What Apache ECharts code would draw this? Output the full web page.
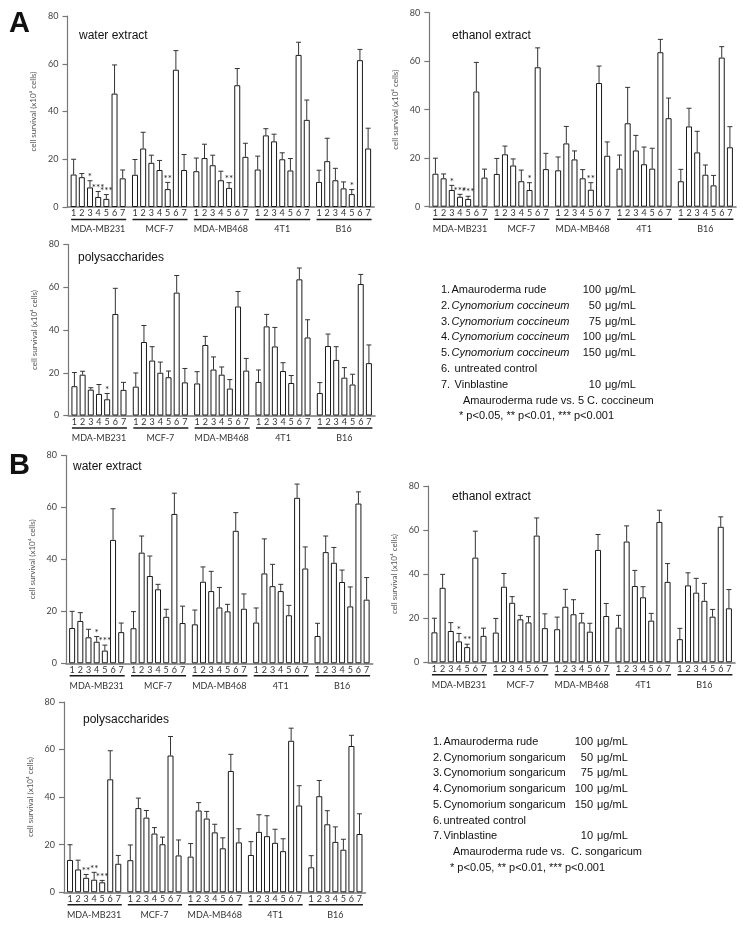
<!DOCTYPE html>
<html>
<head>
<meta charset="utf-8">
<script src="https://cdn.jsdelivr.net/npm/echarts@6/dist/echarts.min.js"></script>
<style>html,body{margin:0;padding:0;background:#fff}#c{width:743px;height:926px}</style>
</head>
<body>
<div id="c"></div>
<script>
// ---------------- DATA ----------------
const groupNames = ['MDA-MB231', 'MCF-7', 'MDA-MB468', '4T1', 'B16'];
const barLabels = ['1', '2', '3', '4', '5', '6', '7'];
const yMin = 0, yMax = 80, yStep = 20;
const yAxisName = 'cell survival (x10\u2074 cells)';

// A  water extract
const aWaterMean = [
  13.6, 12.5, 8.2, 4.2, 3.4, 47.5, 12.0,
  13.5, 24.5, 18.5, 15.5, 7.5, 57.5, 15.5,
  15.0, 20.5, 17.5, 11.2, 8.0, 51.0, 21.0,
  15.7, 30.0, 27.5, 20.0, 15.3, 63.7, 36.5,
  10.5, 19.2, 11.2, 7.8, 5.4, 61.5, 24.5];
const aWaterSD = [
  6.4, 1.5, 2.8, 2.3, 1.8, 12.0, 3.5,
  6.4, 6.8, 3.2, 4.0, 2.8, 8.0, 6.5,
  5.5, 5.8, 4.2, 3.8, 2.2, 7.0, 5.7,
  5.6, 2.8, 3.0, 2.7, 5.0, 5.3, 8.3,
  4.9, 9.6, 5.0, 2.7, 1.9, 4.5, 8.5];
const aWaterSig = [
  '', '', '*', '***', '***', '', '',
  '', '', '', '', '**', '', '',
  '', '', '', '', '**', '', '',
  '', '', '', '', '', '', '',
  '', '', '', '', '*', '', ''];

// A  ethanol extract
const aEthanolMean = [
  13.6, 11.7, 6.9, 4.1, 3.2, 47.5, 12.0,
  13.5, 21.6, 17.0, 10.5, 6.9, 57.5, 15.5,
  15.0, 26.1, 19.5, 11.7, 7.0, 51.0, 21.0,
  15.7, 34.4, 23.2, 17.5, 15.7, 63.7, 36.5,
  10.5, 33.1, 22.4, 13.2, 8.8, 61.5, 24.5];
const aEthanolSD = [
  6.4, 1.8, 1.9, 1.0, 1.1, 12.0, 3.5,
  6.4, 3.4, 2.7, 4.6, 3.0, 8.0, 6.5,
  5.5, 7.0, 3.5, 3.6, 2.9, 7.0, 5.7,
  5.6, 14.8, 6.2, 7.1, 8.4, 5.3, 8.3,
  4.9, 7.5, 8.7, 4.0, 4.1, 4.5, 8.5];
const aEthanolSig = [
  '', '', '*', '***', '***', '', '',
  '', '', '', '', '*', '', '',
  '', '', '', '', '**', '', '',
  '', '', '', '', '', '', '',
  '', '', '', '', '', '', ''];

// A  polysaccharides
const aPolyMean = [
  13.7, 19.1, 12.1, 10.1, 7.6, 47.5, 12.0,
  13.5, 34.4, 25.7, 20.0, 17.9, 57.5, 15.5,
  15.0, 33.0, 21.5, 19.1, 12.6, 51.0, 21.0,
  15.7, 41.7, 32.3, 20.8, 15.2, 63.7, 36.5,
  10.5, 32.5, 26.0, 17.7, 14.5, 61.5, 24.5];
const aPolySD = [
  6.4, 1.6, 0.9, 4.4, 2.7, 12.0, 3.5,
  6.4, 7.7, 6.5, 5.0, 2.9, 8.0, 6.5,
  5.5, 4.0, 5.9, 3.6, 4.2, 7.0, 5.7,
  5.6, 5.6, 8.9, 3.9, 3.5, 5.3, 8.3,
  4.9, 5.6, 6.2, 4.7, 4.8, 4.5, 8.5];
const aPolySig = [
  '', '', '', '', '*', '', '',
  '', '', '', '', '', '', '',
  '', '', '', '', '', '', '',
  '', '', '', '', '', '', '',
  '', '', '', '', '', '', ''];

// B  water extract
const bWaterMean = [
  13.6, 16.3, 10.0, 8.3, 4.9, 47.5, 12.0,
  13.5, 42.6, 33.6, 28.5, 17.9, 57.5, 15.5,
  15.0, 31.4, 27.8, 21.5, 20.0, 51.0, 21.0,
  15.7, 34.6, 29.7, 27.8, 18.5, 63.7, 36.5,
  10.5, 42.8, 38.7, 31.3, 21.9, 61.5, 24.5];
const bWaterSD = [
  6.4, 3.2, 3.1, 2.0, 2.1, 12.0, 3.5,
  6.4, 6.4, 7.7, 1.9, 2.9, 8.0, 6.5,
  5.5, 5.7, 7.6, 7.7, 2.7, 7.0, 5.7,
  5.6, 13.3, 8.4, 2.6, 3.8, 5.3, 8.3,
  4.9, 6.2, 5.9, 4.6, 7.5, 4.5, 8.5];
const bWaterSig = [
  '', '', '', '*', '***', '', '',
  '', '', '', '', '', '', '',
  '', '', '', '', '', '', '',
  '', '', '', '', '', '', '',
  '', '', '', '', '', '', ''];

// B  ethanol extract
const bEthanolMean = [
  13.6, 33.8, 14.2, 9.5, 6.9, 47.5, 12.0,
  13.5, 34.3, 27.0, 19.5, 18.1, 57.5, 15.5,
  15.0, 25.2, 21.8, 18.1, 13.9, 51.0, 21.0,
  15.7, 54.8, 34.6, 29.5, 18.9, 63.7, 36.5,
  10.5, 34.9, 31.6, 27.9, 20.7, 61.5, 24.5];
const bEthanolSD = [
  6.4, 6.1, 3.8, 3.6, 1.3, 12.0, 3.5,
  6.4, 6.0, 2.8, 1.8, 2.6, 8.0, 6.5,
  5.5, 7.9, 6.6, 4.1, 3.8, 7.0, 5.7,
  5.6, 7.1, 7.1, 4.8, 3.3, 5.3, 8.3,
  4.9, 5.7, 6.5, 7.9, 3.3, 4.5, 8.5];
const bEthanolSig = [
  '', '', '', '*', '**', '', '',
  '', '', '', '', '', '', '',
  '', '', '', '', '', '', '',
  '', '', '', '', '', '', '',
  '', '', '', '', '', '', ''];

// B  polysaccharides
const bPolyMean = [
  13.6, 9.6, 6.1, 5.3, 4.2, 47.5, 12.0,
  13.5, 35.4, 31.4, 24.7, 20.2, 57.5, 15.5,
  15.0, 34.4, 31.0, 25.2, 18.5, 51.0, 21.0,
  15.7, 25.4, 23.6, 20.8, 17.3, 63.7, 36.5,
  10.5, 40.4, 28.6, 21.2, 17.9, 61.5, 24.5];
const bPolySD = [
  6.4, 3.9, 1.4, 3.1, 0.8, 12.0, 3.5,
  6.4, 4.2, 3.0, 2.5, 3.0, 8.0, 6.5,
  5.5, 3.3, 3.0, 3.4, 4.4, 7.0, 5.7,
  5.6, 7.2, 8.6, 5.7, 5.2, 5.3, 8.3,
  4.9, 6.6, 5.7, 6.3, 4.4, 4.5, 8.5];
const bPolySig = [
  '', '', '**', '**', '***', '', '',
  '', '', '', '', '', '', '',
  '', '', '', '', '', '', '',
  '', '', '', '', '', '', '',
  '', '', '', '', '', '', ''];

// legend texts
const legendA = [
  ['1.', 'Amauroderma rude', false, '100'],
  ['2.', 'Cynomorium coccineum', true, '50'],
  ['3.', 'Cynomorium coccineum', true, '75'],
  ['4.', 'Cynomorium coccineum', true, '100'],
  ['5.', 'Cynomorium coccineum', true, '150'],
  ['6.', ' untreated control', false, ''],
  ['7.', ' Vinblastine', false, '10']];
const legendANotes = ['Amauroderma rude vs. 5 C. coccineum', '* p<0.05, ** p<0.01, *** p<0.001'];
const legendB = [
  ['1.', 'Amauroderma rude', false, '100'],
  ['2.', 'Cynomorium songaricum', false, '50'],
  ['3.', 'Cynomorium songaricum', false, '75'],
  ['4.', 'Cynomorium songaricum', false, '100'],
  ['5.', 'Cynomorium songaricum', false, '150'],
  ['6.', 'untreated control', false, ''],
  ['7.', 'Vinblastine', false, '10']];
const legendBNotes = ['Amauroderma rude vs.  C. songaricum', '* p<0.05, ** p<0.01, *** p<0.001'];
const doseUnit = '\u03BCg/mL';

// ---------------- LAYOUT ----------------
const panels = [
  {title: 'water extract',   mean: aWaterMean,   sd: aWaterSD,   sig: aWaterSig,   left: 67.5, top: 16,    h: 191,   b: 4.09, tx: 79,  ty: 36},
  {title: 'ethanol extract', mean: aEthanolMean, sd: aEthanolSD, sig: aEthanolSig, left: 429.3, top: 12.7, h: 194,   b: 4.09, tx: 452, ty: 36},
  {title: 'polysaccharides', mean: aPolyMean,    sd: aPolySD,    sig: aPolySig,    left: 68.3, top: 244.5, h: 171,   b: 4.09, tx: 78,  ty: 258},
  {title: 'water extract',   mean: bWaterMean,   sd: bWaterSD,   sig: bWaterSig,   left: 66,   top: 455.5, h: 207.8, b: 4.09, tx: 73,  ty: 467},
  {title: 'ethanol extract', mean: bEthanolMean, sd: bEthanolSD, sig: bEthanolSig, left: 428.3, top: 486,  h: 176.3, b: 4.09, tx: 452, ty: 497},
  {title: 'polysaccharides', mean: bPolyMean,    sd: bPolySD,    sig: bPolySig,    left: 64,   top: 702,   h: 190.3, b: 4.02, tx: 83,  ty: 720}
];
const NCAT = 75;
const catIndex = (g, i) => 1 + 15 * g + 2 * i;
const catLabel = new Array(NCAT).fill('');
groupNames.forEach((_, g) => barLabels.forEach((l, i) => { catLabel[catIndex(g, i)] = l; }));
const cats = catLabel.map((_, k) => 'c' + k);

const sansLab = 'Lato, "Liberation Sans", Arial, sans-serif';
const sansTxt = '"Liberation Sans", Arial, sans-serif';

const grids = [], xAxes = [], yAxes = [], series = [], graphics = [];

panels.forEach((p, pi) => {
  grids.push({left: p.left, top: p.top, width: NCAT * p.b, height: p.h, containLabel: false});
  xAxes.push({
    type: 'category', gridIndex: pi, data: cats, boundaryGap: true,
    axisLine: {lineStyle: {color: '#777', width: 1.5}},
    axisTick: {show: false},
    axisLabel: {interval: 0, margin: 2, fontSize: 9, color: '#333', fontFamily: sansLab,
      formatter: (v, i) => catLabel[i]},
    splitLine: {show: false}
  });
  yAxes.push({
    type: 'value', gridIndex: pi, min: yMin, max: yMax, interval: yStep,
    axisLine: {show: true, lineStyle: {color: '#777', width: 1.2}},
    axisTick: {show: true, inside: false, length: 5, lineStyle: {color: '#777', width: 1.2}},
    axisLabel: {fontSize: 9, color: '#444', margin: 9, fontFamily: sansLab},
    splitLine: {show: false},
    name: yAxisName, nameLocation: 'middle', nameGap: 30,
    nameTextStyle: {fontSize: 8, color: '#555', fontFamily: sansLab}
  });

  const barData = new Array(NCAT).fill('-');
  const errData = [];
  groupNames.forEach((_, g) => barLabels.forEach((_, i) => {
    const k = g * 7 + i;
    barData[catIndex(g, i)] = p.mean[k];
    errData.push([catIndex(g, i), p.mean[k] + p.sd[k], p.mean[k], k]);
  }));

  series.push({
    type: 'bar', xAxisIndex: pi, yAxisIndex: pi, data: barData, barWidth: 6,
    itemStyle: {color: '#ffffff', borderColor: '#1a1a1a', borderWidth: 1},
    silent: true, animation: false
  });

  series.push({
    type: 'custom', xAxisIndex: pi, yAxisIndex: pi, data: errData, clip: false,
    encode: {x: 0, y: 1}, silent: true, animation: false, z: 3,
    renderItem: (params, api) => {
      const x = api.value(0), top = api.value(1), v = api.value(2), k = api.value(3);
      const pt = api.coord([x, top]), pv = api.coord([x, v]);
      const ch = [
        {type: 'line', shape: {x1: pt[0], y1: pv[1], x2: pt[0], y2: pt[1]}, style: {stroke: '#333', lineWidth: 1}},
        {type: 'line', shape: {x1: pt[0] - 2.5, y1: pt[1], x2: pt[0] + 2.5, y2: pt[1]}, style: {stroke: '#333', lineWidth: 1}}
      ];
      const s = p.sig[k];
      if (s) ch.push({type: 'text', style: {text: s, x: pt[0], y: pt[1] + 1, align: 'center', textAlign: 'center',
        verticalAlign: 'bottom', textVerticalAlign: 'bottom', fontSize: 10, fontFamily: sansLab, fill: '#222'}});
      return {type: 'group', children: ch};
    }
  });

  series.push({
    type: 'custom', xAxisIndex: pi, yAxisIndex: pi, clip: false, silent: true, animation: false,
    data: groupNames.map((_, g) => [catIndex(g, 0), 0, catIndex(g, 6), g]),
    encode: {x: 0, y: 1},
    renderItem: (params, api) => {
      const a = api.coord([api.value(0), 0]), b = api.coord([api.value(2), 0]);
      const y = a[1];
      return {type: 'group', children: [
        {type: 'line', shape: {x1: a[0] - 2.5, y1: y + 12.5, x2: b[0] + 3.5, y2: y + 12.5}, style: {stroke: '#1a1a1a', lineWidth: 1.5}},
        {type: 'text', style: {text: groupNames[api.value(3)], x: (a[0] + b[0]) / 2, y: y + 22.5,
          align: 'center', textAlign: 'center', verticalAlign: 'middle', textVerticalAlign: 'middle',
          fontSize: 9, fontFamily: sansLab, fill: '#333'}}
      ]};
    }
  });

  graphics.push({type: 'text', x: p.tx, y: p.ty, silent: true,
    style: {text: p.title, fontSize: 12, fontFamily: sansTxt, fill: '#111',
      align: 'left', textAlign: 'left', verticalAlign: 'middle', textVerticalAlign: 'middle'}});
});

// panel letters
[['A', 9, 24], ['B', 9, 466]].forEach(([t, x, y]) => graphics.push({type: 'text', x, y, silent: true,
  style: {text: t, fontSize: 29, fontWeight: 'bold', fontFamily: sansTxt, fill: '#111',
    align: 'left', textAlign: 'left', verticalAlign: 'middle', textVerticalAlign: 'middle'}}));

// legends
function addLegend(rows, notes, x0, y0, dy, numRight, unitX, noteX1, noteX2) {
  const st = (text, x, y, extra) => graphics.push({type: 'text', x, y, silent: true,
    style: Object.assign({text, fontSize: 11, fontFamily: sansTxt, fill: '#111',
      align: 'left', textAlign: 'left', verticalAlign: 'middle', textVerticalAlign: 'middle'}, extra || {})});
  rows.forEach((r, i) => {
    const y = y0 + i * dy;
    st(r[0], x0, y);
    st(r[1], x0 + 10.5, y, r[2] ? {fontStyle: 'italic'} : null);
    if (r[3]) {
      st(r[3], numRight, y, {align: 'right', textAlign: 'right'});
      st(doseUnit, unitX, y);
    }
  });
  st(notes[0], noteX1, y0 + 7 * dy);
  st(notes[1], noteX2, y0 + 8 * dy);
}
addLegend(legendA, legendANotes, 441, 290, 15.8, 601, 605, 463, 459);
addLegend(legendB, legendBNotes, 433, 742, 15.7, 593, 597, 453, 450);

const chart = echarts.init(document.getElementById('c'), null, {renderer: 'canvas', width: 743, height: 926});
chart.setOption({
  animation: false,
  backgroundColor: '#ffffff',
  grid: grids, xAxis: xAxes, yAxis: yAxes, series: series, graphic: graphics
});
</script>
</body>
</html>
